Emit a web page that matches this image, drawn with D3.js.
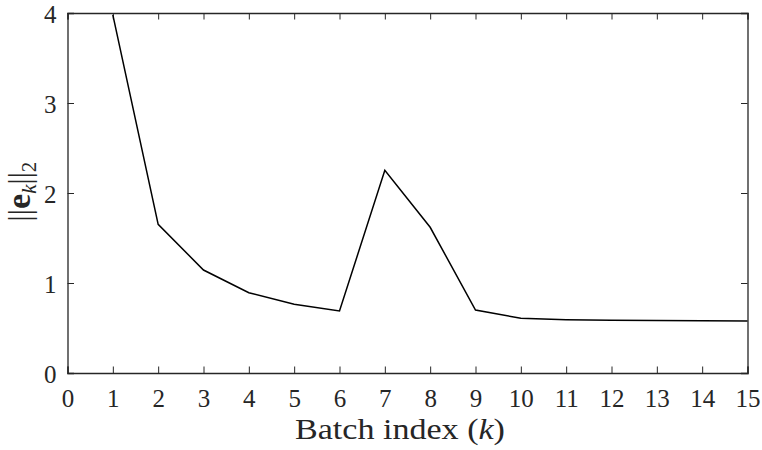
<!DOCTYPE html>
<html>
<head>
<meta charset="utf-8">
<script src="https://cdn.jsdelivr.net/npm/d3@7"></script>
<style>
  html, body { margin: 0; padding: 0; background: #fff; }
  svg { display: block; }
</style>
</head>
<body>
<svg id="chart" width="762" height="450"></svg>
<script>
// Error norm per batch
const batchIndex = [1, 2, 3, 4, 5, 6, 7, 8, 9, 10, 11, 12, 13, 14, 15];
const errorNorm  = [3.98, 1.652, 1.144, 0.892, 0.763, 0.689, 2.252, 1.619, 0.70, 0.608, 0.592, 0.586, 0.583, 0.581, 0.579];

const xTicks = [0, 1, 2, 3, 4, 5, 6, 7, 8, 9, 10, 11, 12, 13, 14, 15];
const yTicks = [0, 1, 2, 3, 4];

const W = 762, H = 450;
const margin = { left: 67.5, right: 14.5, top: 13, bottom: 77 };
const FONT = "Liberation Serif, DejaVu Serif, serif";

const svg = d3.select("#chart");

const x = d3.scaleLinear().domain([0, 15]).range([margin.left, W - margin.right]);
const y = d3.scaleLinear().domain([0, 4]).range([H - margin.bottom, margin.top]);

const axisColor = "#262626";
const tickLen = 6.5;

// Bottom axis with inward ticks
const gx = svg.append("g")
  .attr("transform", `translate(0,${y(0)})`)
  .call(d3.axisBottom(x).tickValues(xTicks).tickSize(-tickLen).tickPadding(16).tickFormat(d3.format("d")));
// Left axis
const gy = svg.append("g")
  .attr("transform", `translate(${x(0)},0)`)
  .call(d3.axisLeft(y).tickValues(yTicks).tickSize(-tickLen).tickPadding(11).tickFormat(d3.format("d")));
// Top and right mirrored axes (ticks only)
const gt = svg.append("g")
  .attr("transform", `translate(0,${y(4)})`)
  .call(d3.axisTop(x).tickValues(xTicks).tickSize(-tickLen).tickFormat(""));
const gr = svg.append("g")
  .attr("transform", `translate(${x(15)},0)`)
  .call(d3.axisRight(y).tickValues(yTicks).tickSize(-tickLen).tickFormat(""));

[gx, gy, gt, gr].forEach(g => {
  g.attr("font-family", FONT).attr("font-size", 25);
  g.select(".domain").attr("stroke", axisColor).attr("stroke-width", 1.3);
  g.selectAll(".tick line").attr("stroke", axisColor).attr("stroke-width", 1);
  g.selectAll(".tick text").attr("fill", axisColor);
});
gy.selectAll(".tick text").attr("dy", "0.38em");

// Data line
const line = d3.line().x((d, i) => x(batchIndex[i])).y(d => y(d));
svg.append("path")
  .datum(errorNorm)
  .attr("fill", "none")
  .attr("stroke", "#000")
  .attr("stroke-width", 1.5)
  .attr("d", line);

// X axis title
const xt = svg.append("text")
  .attr("x", 400)
  .attr("y", 439)
  .attr("text-anchor", "middle")
  .attr("font-family", FONT)
  .attr("font-size", 29)
  .attr("textLength", 210)
  .attr("lengthAdjust", "spacingAndGlyphs")
  .attr("fill", axisColor);
xt.append("tspan").text("Batch index (");
xt.append("tspan").attr("font-style", "italic").text("k");
xt.append("tspan").text(")");

// Y axis title: ||e_k||_2
const yl = svg.append("text")
  .attr("transform", `translate(30,191.5) rotate(-90)`)
  .attr("text-anchor", "middle")
  .attr("font-family", FONT)
  .attr("font-size", 31)
  .attr("fill", axisColor);
yl.append("tspan").text("||");
yl.append("tspan").attr("font-weight", "bold").attr("font-size", 34).text("e");
yl.append("tspan").attr("font-style", "italic").attr("font-size", 21).attr("dy", 6).text("k");
yl.append("tspan").attr("dy", -6).text("||");
yl.append("tspan").attr("font-size", 21).attr("dy", 6).text("2");
</script>
</body>
</html>
